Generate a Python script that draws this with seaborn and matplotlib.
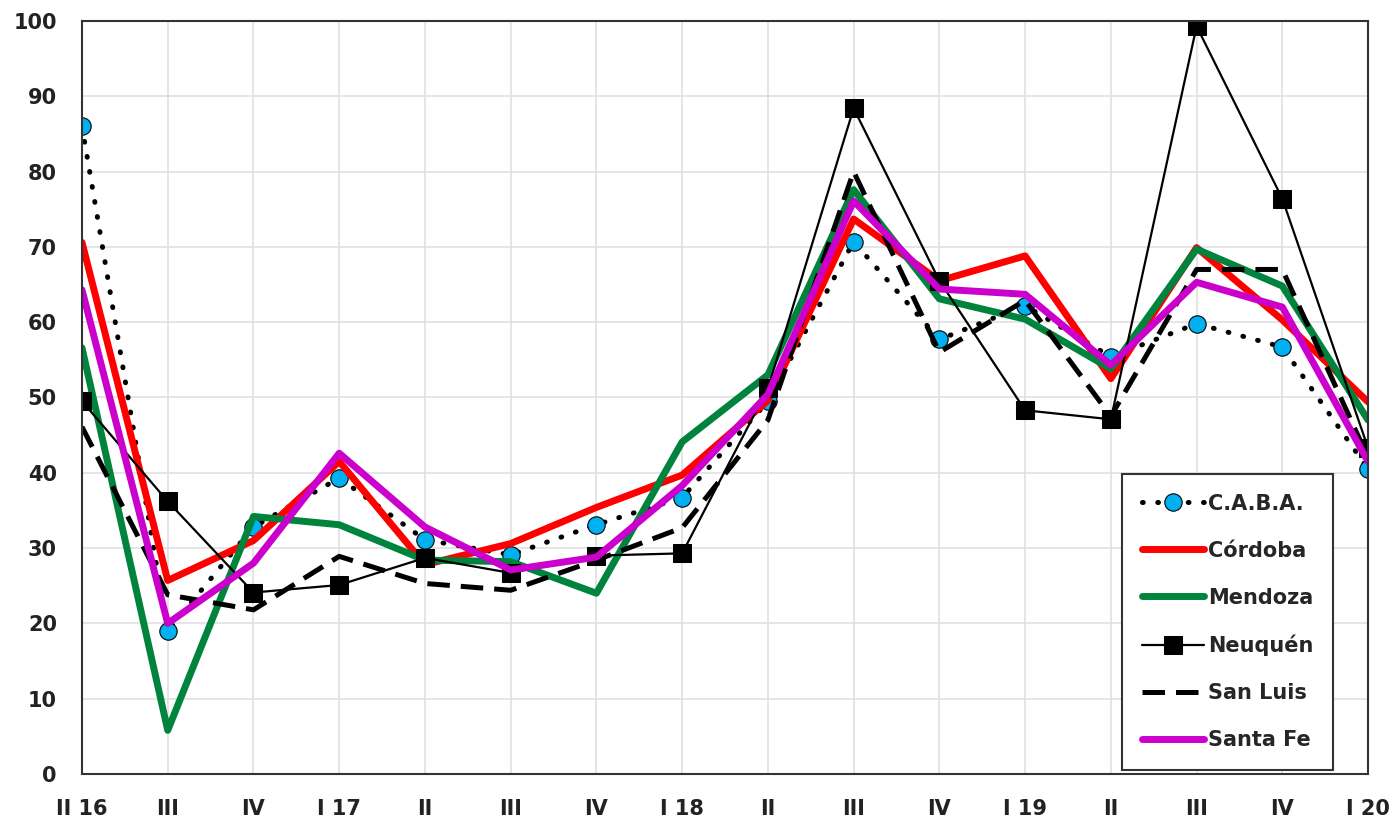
import numpy as np
import pandas as pd
import matplotlib.pyplot as plt
import seaborn as sns

trimestres = ['II 16', 'III', 'IV', 'I 17', 'II', 'III', 'IV', 'I 18',
              'II', 'III', 'IV', 'I 19', 'II', 'III', 'IV', 'I 20']

caba = [86.0, 19.0, 32.8, 39.3, 31.1, 29.1, 33.1, 36.7,
        49.5, 70.7, 57.7, 62.2, 55.4, 59.8, 56.7, 40.5]
cordoba = [70.6, 25.7, 31.0, 41.5, 27.8, 30.6, 35.4, 39.7,
           49.6, 73.7, 65.5, 68.8, 52.5, 69.9, 60.3, 49.4]
mendoza = [56.6, 5.8, 34.2, 33.1, 28.4, 28.2, 24.0, 44.1,
           53.0, 77.6, 63.1, 60.4, 53.8, 69.7, 64.8, 47.0]
neuquen = [49.5, 36.2, 24.1, 25.1, 28.7, 26.7, 29.0, 29.3,
           51.2, 88.4, 65.5, 48.3, 47.1, 99.3, 76.4, 43.3]
san_luis = [46.1, 23.8, 21.8, 28.9, 25.3, 24.4, 28.4, 32.7,
            47.0, 80.0, 56.0, 62.9, 47.5, 67.0, 67.0, 42.0]
santa_fe = [64.3, 20.0, 28.0, 42.6, 32.8, 27.1, 28.8, 38.3,
            50.4, 76.1, 64.4, 63.7, 54.3, 65.3, 62.0, 41.5]

series = {
    'C.A.B.A.': caba,
    'Córdoba': cordoba,
    'Mendoza': mendoza,
    'Neuquén': neuquen,
    'San Luis': san_luis,
    'Santa Fe': santa_fe,
}

estilos = {
    'C.A.B.A.': dict(color='black', linewidth=3.6, linestyle=(0, (0.15, 2.9)),
                     dash_capstyle='round', marker='o', markersize=12.5,
                     markerfacecolor='#00b0f0', markeredgecolor='black',
                     markeredgewidth=0.8),
    'Córdoba': dict(color='#ff0000', linewidth=5),
    'Mendoza': dict(color='#00843d', linewidth=5),
    'Neuquén': dict(color='black', linewidth=1.6, marker='s', markersize=13,
                    markerfacecolor='black', markeredgecolor='black'),
    'San Luis': dict(color='black', linewidth=3.6, linestyle=(0, (4.5, 2.2))),
    'Santa Fe': dict(color='#cc00cc', linewidth=5),
}

x = np.arange(len(trimestres))
df = pd.DataFrame({'x': np.tile(x, len(series)),
                   'valor': np.concatenate([series[k] for k in series]),
                   'provincia': np.repeat(list(series.keys()), len(x))})

sns.set_style('white')
fig, ax = plt.subplots(figsize=(13.92, 8.22), dpi=100)
fig.subplots_adjust(left=0.0589, right=0.9828, top=0.9745, bottom=0.0584)

for nombre in series:
    sub = df[df['provincia'] == nombre]
    sns.lineplot(data=sub, x='x', y='valor', ax=ax, label=nombre,
                 **estilos[nombre])

ax.set_xlim(0, 15)
ax.set_ylim(0, 100)
ax.set_xticks(x)
ax.set_xticklabels(trimestres)
ax.set_yticks(np.arange(0, 101, 10))
ax.set_xlabel('')
ax.set_ylabel('')
ax.grid(True, color='#e0e0e0', linewidth=1.2)
ax.set_axisbelow(True)
for s in ax.spines.values():
    s.set_color('#333333')
    s.set_linewidth(1.5)
ax.tick_params(axis='x', length=0, pad=18, labelsize=15)
ax.tick_params(axis='y', length=0, pad=18, labelsize=15)
for lab in ax.get_xticklabels() + ax.get_yticklabels():
    lab.set_fontweight('bold')
    lab.set_color('#222222')

leg = ax.legend(loc='lower right', bbox_to_anchor=(0.973, 0.005),
                fancybox=False, edgecolor='#333333', framealpha=1,
                prop={'weight': 'bold', 'size': 15}, labelspacing=1.3,
                handlelength=3.0, handletextpad=0.2, borderpad=0.95,
                borderaxespad=0)
leg.get_frame().set_linewidth(1.5)

plt.savefig('out.png', dpi=100)
